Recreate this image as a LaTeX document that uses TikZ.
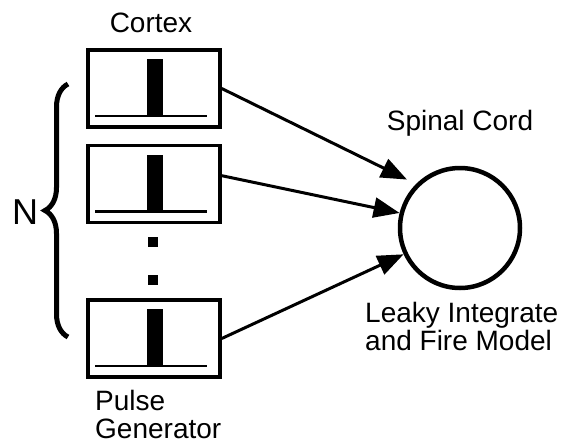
\documentclass[tikz,border=0pt]{standalone}
\usepackage{fontspec}
\setmainfont{Liberation Sans}
\usetikzlibrary{arrows.meta,positioning,calc,decorations.pathreplacing}

\begin{document}
\begin{tikzpicture}[x=1pt, y=-1pt, font=\fontsize{28}{28}\selectfont,
  genbox/.style={draw, line width=3.5pt, minimum width=132pt, minimum height=77pt, inner sep=0pt},
  dotsq/.style={fill, minimum size=10pt, inner sep=0pt},
  arr/.style={-{Triangle[length=26pt,width=20pt]}, line width=3pt}]
\useasboundingbox (0,0) rectangle (566,445);
\node[genbox] (b1) at (154,88.5) {};
\node[genbox, below=15pt of b1] (b2) {};
\node[genbox] (b3) at (154,338.5) {};
\foreach \b in {b1,b2,b3} {
  \draw[line width=2.5pt] ($(\b.south west)+(9,-13)$) -- ($(\b.south east)+(-15,-13)$);
  \fill ($(\b.south)+(-7,-13)$) rectangle ($(\b.north)+(9,11)$);
}
\node[dotsq] (d1) at (153,242) {};
\node[dotsq] (d2) at (153,280) {};
\node[draw, circle, line width=4.5pt, minimum size=120pt] (sc) at (460,228) {};
\draw[arr, shorten >=10pt] (b1.east) -- (sc.135);
\draw[arr] (b2.7) -- (sc.166);
\draw[arr] (b3.east) -- (sc.205);
\node (cortex) at (151,23) {Cortex};
\node (spinal) at (460,123) {Spinal Cord};
\node[align=left, anchor=north west, inner sep=0pt] (lif) at (365,302) {Leaky Integrate\\and Fire Model};
\node[align=left, anchor=north west, inner sep=0pt] (pg) at (95,390) {Pulse\\Generator};
\node[font=\fontsize{36}{36}\selectfont] (n) at (25,212) {N};
\coordinate (nt) at (68,84);
\coordinate (nb) at (68,337);
\draw[decorate, decoration={brace, amplitude=23pt}, line width=5pt] (nb) -- (nt);
\end{tikzpicture}
\end{document}
